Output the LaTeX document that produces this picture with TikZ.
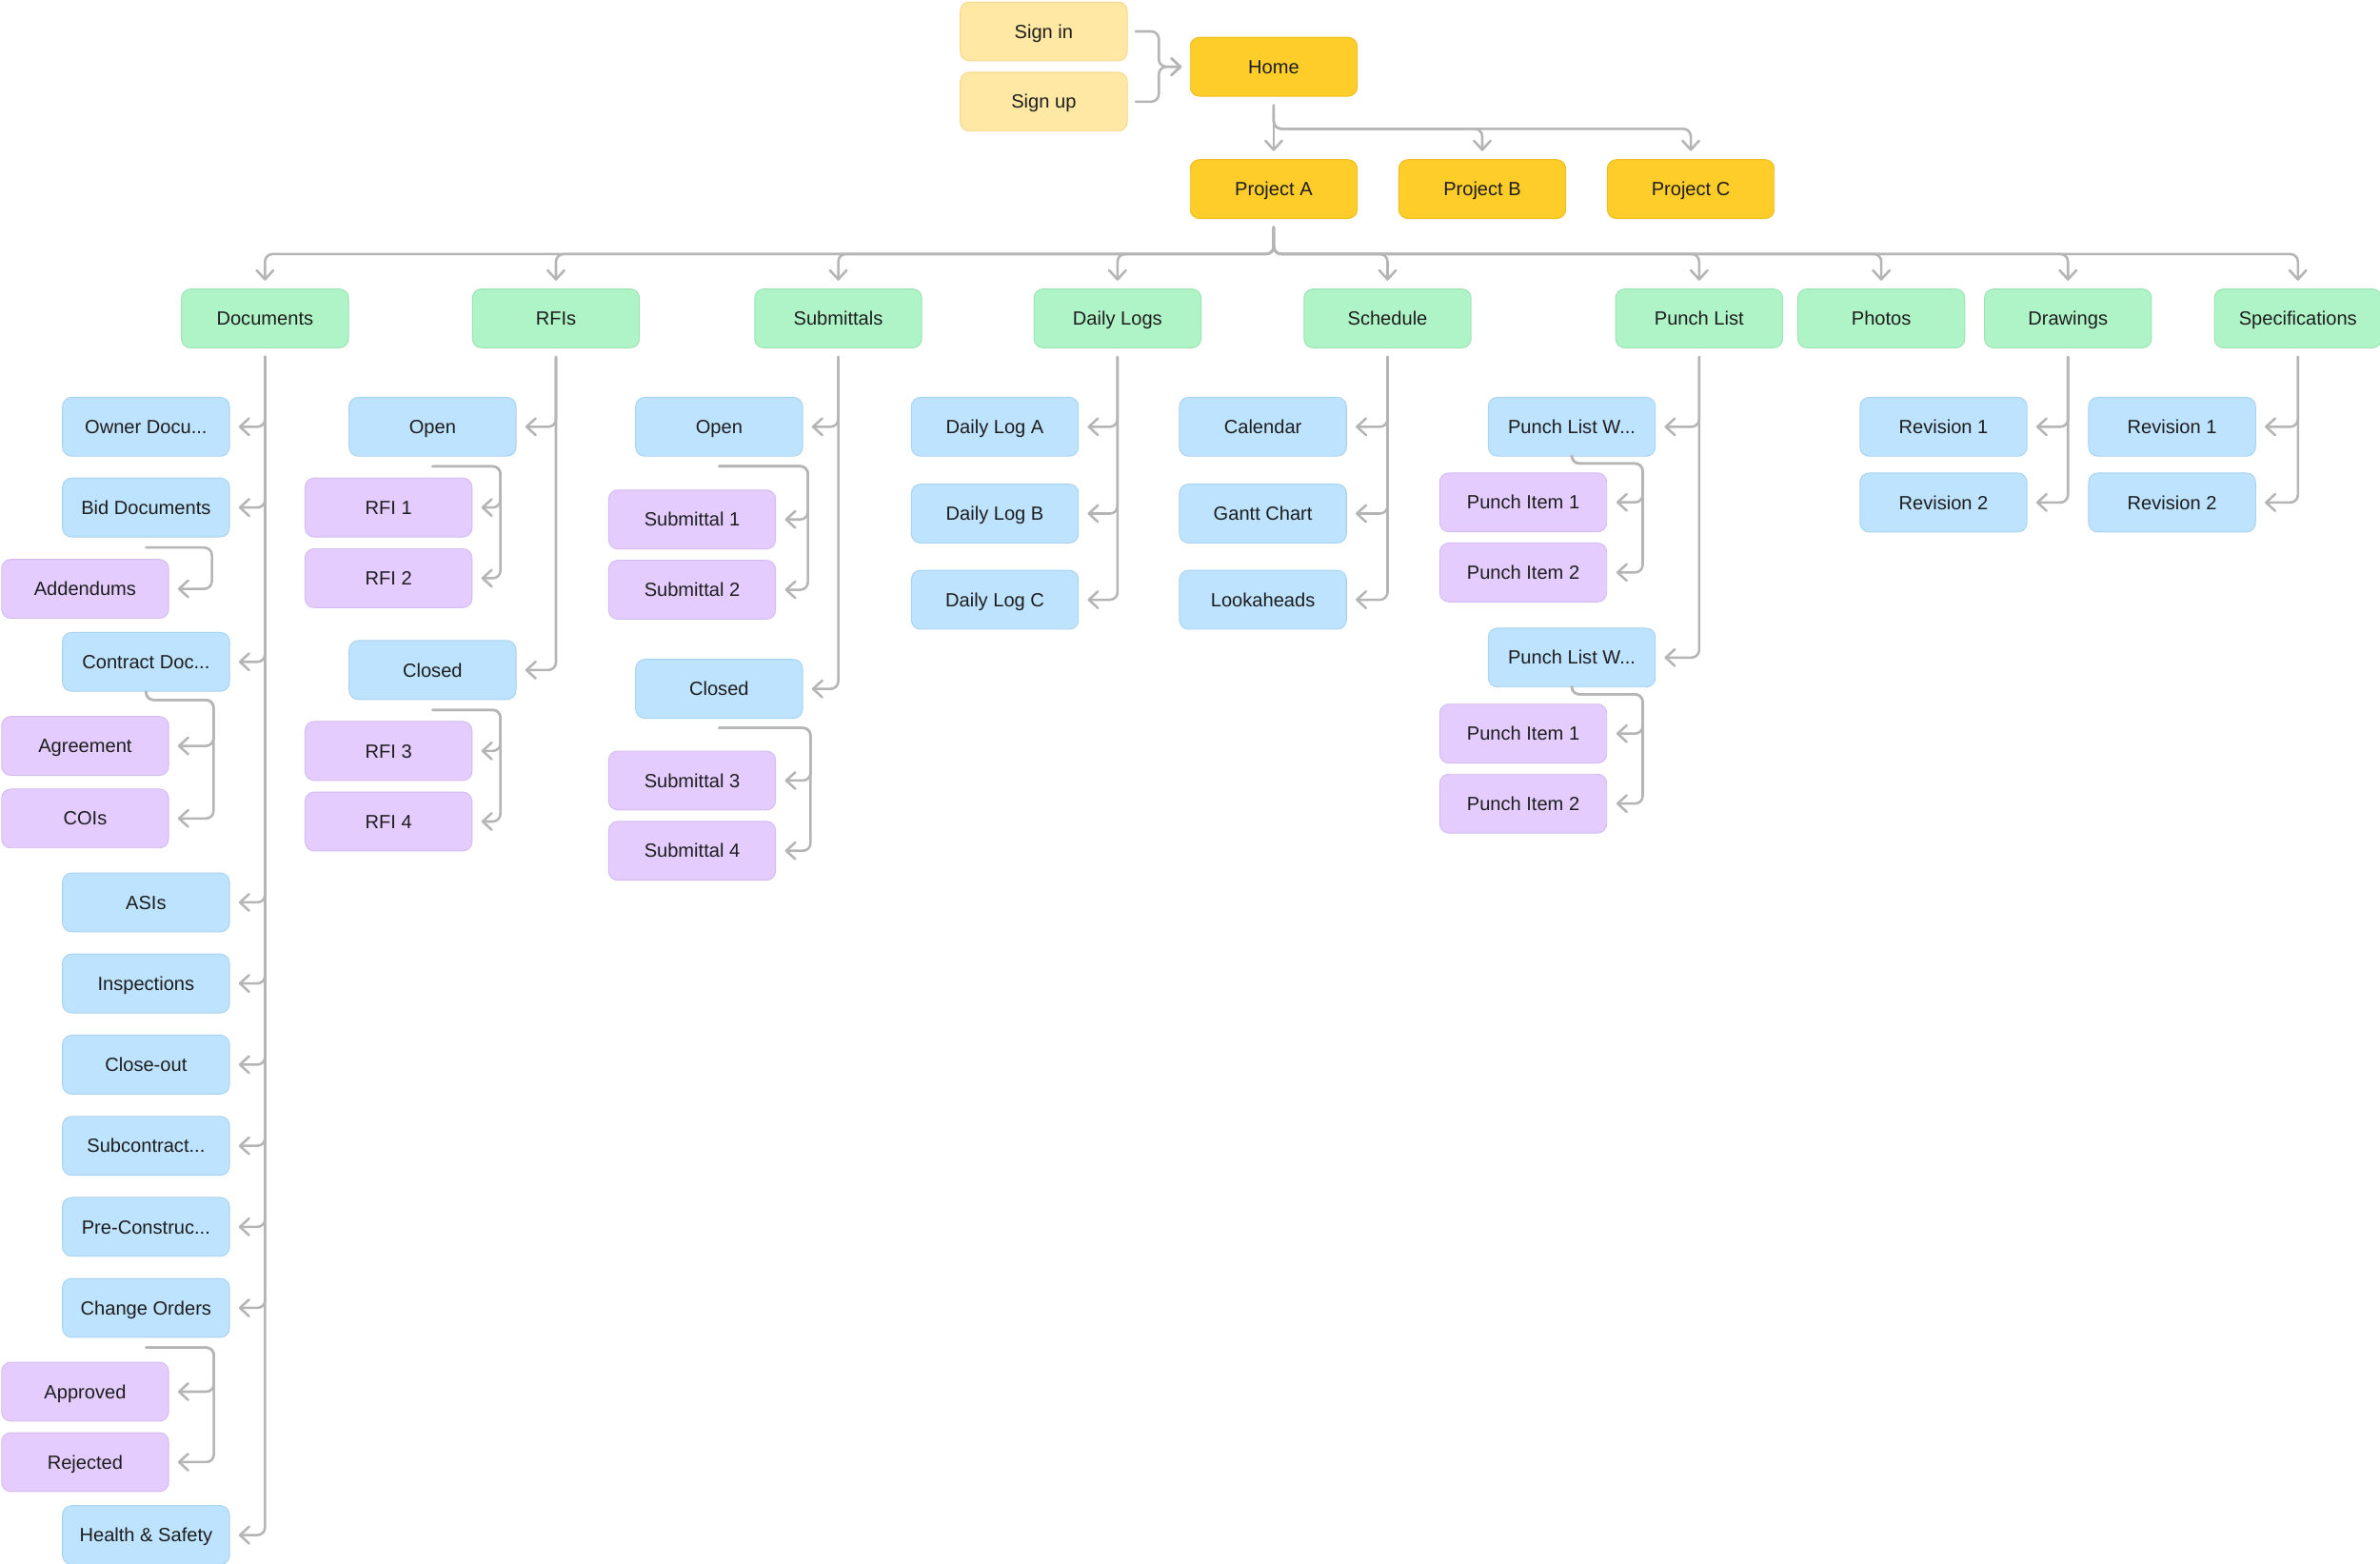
\documentclass[tikz,border=0pt]{standalone}
\usepackage{fontspec}
\setmainfont{Liberation Sans}
\usetikzlibrary{arrows.meta,calc}
\definecolor{cLink}{HTML}{B5B5B5}
\definecolor{cTxt}{HTML}{1E1E1E}
\definecolor{cYl}{HTML}{FFE8A3}
\definecolor{cYlD}{HTML}{F3D88E}
\definecolor{cYe}{HTML}{FFCD29}
\definecolor{cYeD}{HTML}{EFBE22}
\definecolor{cGr}{HTML}{AFF4C6}
\definecolor{cGrD}{HTML}{9CE2B3}
\definecolor{cBl}{HTML}{BDE3FF}
\definecolor{cBlD}{HTML}{A9D3F2}
\definecolor{cPu}{HTML}{E4CCFF}
\definecolor{cPuD}{HTML}{D4BCF2}
\begin{document}
\begin{tikzpicture}[x=1pt,y=-1pt,
  box/.style={rounded corners=6pt, minimum width=110pt, minimum height=38.8pt, inner sep=0pt,
    text height=9pt, text depth=0pt,
    font=\fontsize{12.6}{15}\selectfont, text=cTxt, line width=0.6pt},
  ylight/.style={box, fill=cYl, draw=cYlD},
  yel/.style={box, fill=cYe, draw=cYeD},
  grnbox/.style={box, fill=cGr, draw=cGrD},
  blubox/.style={box, fill=cBl, draw=cBlD},
  purbox/.style={box, fill=cPu, draw=cPuD},
  conn/.style={draw=cLink, line width=1.6pt, rounded corners=5pt, line cap=round, line join=round,
    -{Straight Barb[length=6pt,width=11pt,round]}},
]
\useasboundingbox (0,0) rectangle (1568.1,1030);

% ---------- top ----------
\node[ylight] (signin) at (687.7,20.7) {Sign in};
\node[ylight] (signup) at (687.7,67) {Sign up};
\node[yel] (home) at (839.2,44) {Home};
\node[yel] (pa) at (839.2,124.6) {Project A};
\node[yel] (pb) at (976.6,124.6) {Project B};
\node[yel] (pc) at (1114,124.6) {Project C};

% ---------- level 2 ----------
\node[grnbox] (docs) at (174.6,209.8) {Documents};
\node[grnbox] (rfis) at (366.3,209.8) {RFIs};
\node[grnbox] (subm) at (552.3,209.8) {Submittals};
\node[grnbox] (dlogs) at (736.3,209.8) {Daily Logs};
\node[grnbox] (sched) at (914.2,209.8) {Schedule};
\node[grnbox] (punch) at (1119.5,209.8) {Punch List};
\node[grnbox] (photos) at (1239.5,209.8) {Photos};
\node[grnbox] (drw) at (1362.5,209.8) {Drawings};
\node[grnbox] (specs) at (1514,209.8) {Specifications};

% ---------- documents ----------
\node[blubox] (owner) at (96.2,281.2) {Owner Docu...};
\node[blubox] (bid) at (96.2,334.4) {Bid Documents};
\node[purbox] (addend) at (56.1,388) {Addendums};
\node[blubox] (contract) at (96.2,436.1) {Contract Doc...};
\node[purbox] (agree) at (56.1,491.5) {Agreement};
\node[purbox] (cois) at (56.1,539.3) {COIs};
\node[blubox] (asis) at (96.2,594.6) {ASIs};
\node[blubox] (insp) at (96.2,648) {Inspections};
\node[blubox] (closeout) at (96.2,701.5) {Close-out};
\node[blubox] (subc) at (96.2,755) {Subcontract...};
\node[blubox] (precon) at (96.2,808.4) {Pre-Construc...};
\node[blubox] (change) at (96.2,861.8) {Change Orders};
\node[purbox] (approved) at (56.1,917) {Approved};
\node[purbox] (rejected) at (56.1,963.4) {Rejected};
\node[blubox] (health) at (96.2,1011.5) {Health \& Safety};

% ---------- RFIs ----------
\node[blubox] (rfiopen) at (285,281.2) {Open};
\node[purbox] (rfi1) at (256,334.4) {RFI 1};
\node[purbox] (rfi2) at (256,381) {RFI 2};
\node[blubox] (rficlosed) at (285,441.5) {Closed};
\node[purbox] (rfi3) at (256,494.8) {RFI 3};
\node[purbox] (rfi4) at (256,541.3) {RFI 4};

% ---------- Submittals ----------
\node[blubox] (subopen) at (473.8,281.2) {Open};
\node[purbox] (sub1) at (456,342.3) {Submittal 1};
\node[purbox] (sub2) at (456,388.6) {Submittal 2};
\node[blubox] (subclosed) at (473.8,453.9) {Closed};
\node[purbox] (sub3) at (456,514.3) {Submittal 3};
\node[purbox] (sub4) at (456,560.6) {Submittal 4};

% ---------- Daily logs / Schedule ----------
\node[blubox] (dla) at (655.5,281.2) {Daily Log A};
\node[blubox] (dlb) at (655.5,338.4) {Daily Log B};
\node[blubox] (dlc) at (655.5,395.2) {Daily Log C};
\node[blubox] (cal) at (832.1,281.2) {Calendar};
\node[blubox] (gantt) at (832.1,338.4) {Gantt Chart};
\node[blubox] (look) at (832.1,395.2) {Lookaheads};

% ---------- Punch list ----------
\node[blubox] (plw1) at (1035.6,281.2) {Punch List W...};
\node[purbox] (pi1) at (1003.6,331) {Punch Item 1};
\node[purbox] (pi2) at (1003.6,377.2) {Punch Item 2};
\node[blubox] (plw2) at (1035.6,433.3) {Punch List W...};
\node[purbox] (pi3) at (1003.6,483.4) {Punch Item 1};
\node[purbox] (pi4) at (1003.6,529.5) {Punch Item 2};

% ---------- Drawings / Specs ----------
\node[blubox] (dr1) at (1280.5,281.2) {Revision 1};
\node[blubox] (dr2) at (1280.5,331.1) {Revision 2};
\node[blubox] (sp1) at (1431.1,281.2) {Revision 1};
\node[blubox] (sp2) at (1431.1,331.1) {Revision 2};

% ================= connectors =================
% sign in / up -> home
\foreach \s in {signin,signup}
  \draw[conn] ($(\s.east)+(5.3,0)$) -- ++(15.2,0) |- ($(home.west)+(-5.3,0)$);

% home -> projects
\draw[conn] ($(home.south)+(0,5.7)$) -- ($(pa.north)+(0,-5.4)$);
\foreach \p in {pb,pc}
  \draw[conn] ($(home.south)+(0,5.7)$) -- ++(0,15.5) -| ($(\p.north)+(0,-5.4)$);

% project A -> level 2
\foreach \g in {docs,rfis,subm,dlogs,sched,punch,photos,drw,specs}
  \draw[conn] ($(pa.south)+(0,5.5)$) -- ++(0,17.6) -| ($(\g.north)+(0,-5.2)$);

% trunks
\foreach \c in {owner,bid,contract,asis,insp,closeout,subc,precon,change,health}
  \draw[conn] ($(docs.south)+(0,5.7)$) |- ($(\c.east)+(5.8,0)$);
\foreach \c in {rfiopen,rficlosed}
  \draw[conn] ($(rfis.south)+(0,5.7)$) |- ($(\c.east)+(5.8,0)$);
\foreach \c in {subopen,subclosed}
  \draw[conn] ($(subm.south)+(0,5.7)$) |- ($(\c.east)+(5.8,0)$);
\foreach \c in {dla,dlb,dlc}
  \draw[conn] ($(dlogs.south)+(0,5.7)$) |- ($(\c.east)+(5.8,0)$);
\foreach \c in {cal,gantt,look}
  \draw[conn] ($(sched.south)+(0,5.7)$) |- ($(\c.east)+(5.8,0)$);
\foreach \c in {plw1,plw2}
  \draw[conn] ($(punch.south)+(0,5.7)$) |- ($(\c.east)+(5.8,0)$);
\foreach \c in {dr1,dr2}
  \draw[conn] ($(drw.south)+(0,5.7)$) |- ($(\c.east)+(5.8,0)$);
\foreach \c in {sp1,sp2}
  \draw[conn] ($(specs.south)+(0,5.7)$) |- ($(\c.east)+(5.8,0)$);

% sub-branches
\draw[conn] ($(bid.south)+(0,6.7)$) -| ($(addend.east)+(28.2,0)$) -- ($(addend.east)+(5.8,0)$);
\foreach \c in {agree,cois}
  \draw[conn] (contract.south) -- ++(0,5.4) -| ($(\c.east)+(29.3,0)$) -- ($(\c.east)+(5.8,0)$);
\foreach \c in {approved,rejected}
  \draw[conn] ($(change.south)+(0,6.4)$) -| ($(\c.east)+(29.5,0)$) -- ($(\c.east)+(5.8,0)$);
\foreach \c in {rfi1,rfi2}
  \draw[conn] ($(rfiopen.south)+(0,6.4)$) -| ($(\c.east)+(18.4,0)$) -- ($(\c.east)+(5.9,0)$);
\foreach \c in {rfi3,rfi4}
  \draw[conn] ($(rficlosed.south)+(0,6.6)$) -| ($(\c.east)+(18.4,0)$) -- ($(\c.east)+(5.9,0)$);
\foreach \c in {sub1,sub2}
  \draw[conn] ($(subopen.south)+(0,6.3)$) -| ($(\c.east)+(21,0)$) -- ($(\c.east)+(5.9,0)$);
\foreach \c in {sub3,sub4}
  \draw[conn] ($(subclosed.south)+(0,6)$) -| ($(\c.east)+(22.7,0)$) -- ($(\c.east)+(5.9,0)$);
\foreach \c in {pi1,pi2}
  \draw[conn] (plw1.south) -- ++(0,4.5) -| ($(\c.east)+(23.4,0)$) -- ($(\c.east)+(6.1,0)$);
\foreach \c in {pi3,pi4}
  \draw[conn] (plw2.south) -- ++(0,4.5) -| ($(\c.east)+(23.4,0)$) -- ($(\c.east)+(6.1,0)$);
\end{tikzpicture}
\end{document}
